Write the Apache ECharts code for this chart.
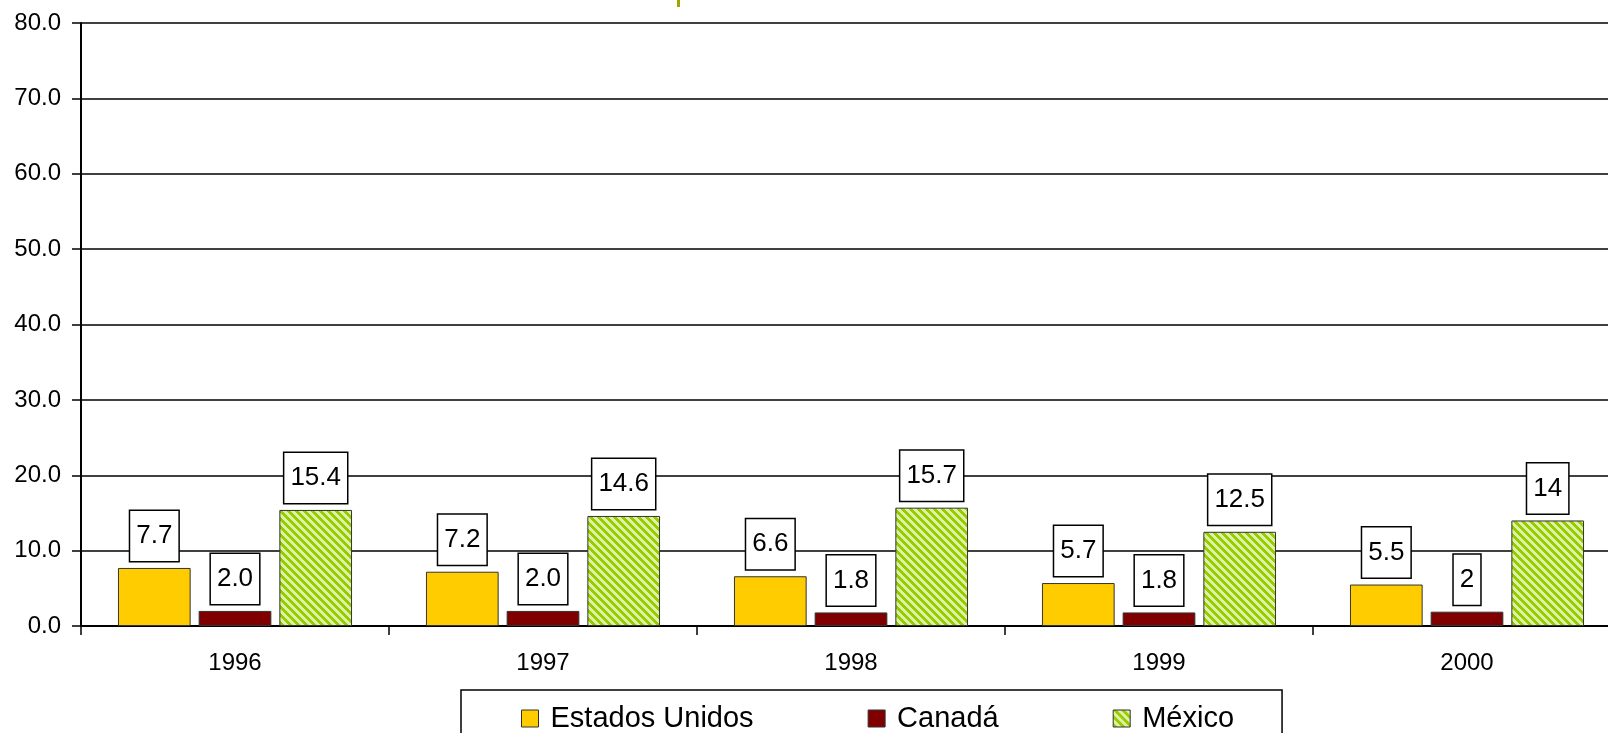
<!DOCTYPE html>
<html>
<head>
<meta charset="utf-8">
<script src="https://cdn.jsdelivr.net/npm/echarts@6/dist/echarts.min.js"></script>
<style>
html,body{margin:0;padding:0;background:#fff;overflow:hidden;width:1608px;height:733px;}
#chart{width:1660px;height:733px;}
</style>
</head>
<body>
<div id="chart"></div>
<script>
// ---- data ----
const years = ['1996', '1997', '1998', '1999', '2000'];
const estadosUnidos = [7.7, 7.2, 6.6, 5.7, 5.5];
const canada = [2.0, 2.0, 1.8, 1.8, 1.9];
const mexico = [15.4, 14.6, 15.7, 12.5, 14.0];
const estadosUnidosLabels = ['7.7', '7.2', '6.6', '5.7', '5.5'];
const canadaLabels = ['2.0', '2.0', '1.8', '1.8', '2'];
const mexicoLabels = ['15.4', '14.6', '15.7', '12.5', '14'];
const yTicks = [0, 10, 20, 30, 40, 50, 60, 70, 80];

// hatch pattern for México
function makeHatch() {
  const s = 8;
  const c = document.createElement('canvas');
  c.width = s; c.height = s;
  const ctx = c.getContext('2d');
  const img = ctx.createImageData(s, s);
  for (let y = 0; y < s; y++) {
    for (let x = 0; x < s; x++) {
      const k = ((x - y) % s + s) % s;
      const i = (y * s + x) * 4;
      if (k < 4) { img.data[i] = 0x99; img.data[i+1] = 0xcc; img.data[i+2] = 0x00; }
      else { img.data[i] = 0xdc; img.data[i+1] = 0xf2; img.data[i+2] = 0xa6; }
      img.data[i+3] = 255;
    }
  }
  ctx.putImageData(img, 0, 0);
  return c;
}
const hatch = { image: makeHatch(), repeat: 'repeat' };

const FONT = '"Liberation Sans", Arial, sans-serif';

const labelBase = {
  show: true,
  position: 'top',
  distance: 7,
  fontFamily: FONT,
  fontSize: 26,
  lineHeight: 26,
  color: '#000',
  backgroundColor: '#fff',
  borderColor: '#000',
  borderWidth: 1.5,
  padding: [12, 6, 12, 6]
};

function series(name, data, labels, color) {
  return {
    name: name,
    type: 'bar',
    data: data,
    barGap: '11%',
    barCategoryGap: '24%',
    itemStyle: { color: color, borderColor: '#333', borderWidth: 1 },
    label: Object.assign({}, labelBase, {
      formatter: p => labels[p.dataIndex]
    }),
    emphasis: { disabled: true }
  };
}

const chart = echarts.init(document.getElementById('chart'), null, { renderer: 'canvas' });
chart.setOption({
  animation: false,
  backgroundColor: '#fff',
  textStyle: { fontFamily: FONT },
  grid: { left: 81, top: 23, width: 1540, height: 603, containLabel: false },
  graphic: [{
    type: 'rect', left: 677, top: 0,
    shape: { width: 3, height: 7 },
    style: { fill: '#a3a300' }
  }],
  legend: {
    left: 461, top: 690,
    padding: [14, 48, 16, 60],
    borderColor: '#000', borderWidth: 1.5,
    itemWidth: 17, itemHeight: 17,
    itemGap: 114,
    icon: 'rect',
    textStyle: { fontFamily: FONT, fontSize: 29, color: '#000', padding: [0, 0, 0, 7] },
    itemStyle: { borderColor: '#333', borderWidth: 1 },
    data: ['Estados Unidos', 'Canadá', 'México']
  },
  xAxis: {
    type: 'category',
    data: years,
    axisLine: { lineStyle: { color: '#000', width: 2 } },
    axisTick: { show: true, length: 9, lineStyle: { color: '#000', width: 1.5 } },
    axisLabel: { fontFamily: FONT, fontSize: 24, color: '#000', margin: 25 }
  },
  yAxis: {
    type: 'value',
    min: yTicks[0], max: yTicks[yTicks.length - 1], interval: 10,
    axisLine: { show: true, lineStyle: { color: '#000', width: 2 } },
    axisTick: { show: true, length: 9, lineStyle: { color: '#000', width: 1.5 } },
    axisLabel: { fontFamily: FONT, fontSize: 24, color: '#000', margin: 20,
                 formatter: v => v.toFixed(1) },
    splitLine: { show: true, lineStyle: { color: '#000', width: 1.5 } }
  },
  series: [
    series('Estados Unidos', estadosUnidos, estadosUnidosLabels, '#ffcc00'),
    series('Canadá', canada, canadaLabels, '#800000'),
    series('México', mexico, mexicoLabels, hatch)
  ]
});
</script>
</body>
</html>
